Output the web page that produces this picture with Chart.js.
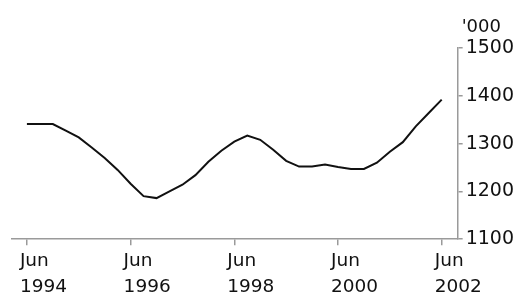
<!DOCTYPE html>
<html>
<head>
<meta charset="utf-8">
<script src="https://cdn.jsdelivr.net/npm/chart.js@4/dist/chart.umd.min.js"></script>
<style>
  html, body { margin: 0; padding: 0; background: #fff; }
  #wrap { width: 521px; height: 296px; }
</style>
</head>
<body>
<div id="wrap"><canvas id="chart"></canvas></div>
<script>
// quarterly series, Jun 1994 .. Jun 2002 ('000)
const quarters = [
  'Jun 1994', 'Sep 1994', 'Dec 1994', 'Mar 1995', 'Jun 1995', 'Sep 1995', 'Dec 1995', 'Mar 1996',
  'Jun 1996', 'Sep 1996', 'Dec 1996', 'Mar 1997', 'Jun 1997', 'Sep 1997', 'Dec 1997', 'Mar 1998',
  'Jun 1998', 'Sep 1998', 'Dec 1998', 'Mar 1999', 'Jun 1999', 'Sep 1999', 'Dec 1999', 'Mar 2000',
  'Jun 2000', 'Sep 2000', 'Dec 2000', 'Mar 2001', 'Jun 2001', 'Sep 2001', 'Dec 2001', 'Mar 2002',
  'Jun 2002'
];
const values = [
  1341, 1341, 1341, 1327, 1313, 1292, 1270, 1245,
  1216, 1190, 1186, 1200, 1214, 1234, 1262, 1285,
  1304, 1317, 1308, 1287, 1264, 1252, 1252, 1256,
  1251, 1247, 1247, 1260, 1283, 1303, 1336, 1364,
  1392
];
const xTickLabels = ['Jun 1994', 'Jun 1996', 'Jun 1998', 'Jun 2000', 'Jun 2002'];
const yTicks = [1100, 1200, 1300, 1400, 1500];
const unitLabel = "'000";

const AXIS = '#9a9a9a';
const FONT = 'DejaVu Sans';

// the '000 unit above the value axis
const unitText = {
  id: 'unitText',
  afterDraw(chart) {
    const ctx = chart.ctx, y = chart.scales.y;
    ctx.save();
    ctx.font = '18px ' + FONT;
    ctx.fillStyle = '#111';
    ctx.textAlign = 'left';
    ctx.textBaseline = 'middle';
    ctx.fillText(unitLabel, y.left + 4, y.top - 21);
    ctx.restore();
  }
};

new Chart(document.getElementById('chart'), {
  type: 'line',
  data: {
    datasets: [{
      data: values.map((v, i) => ({ x: i, y: v })),
      borderColor: '#111',
      borderWidth: 2,
      pointRadius: 0,
      tension: 0,
      fill: false
    }]
  },
  options: {
    responsive: true,
    maintainAspectRatio: false,
    animation: false,
    layout: { padding: { left: 12, right: 4, top: 48, bottom: -7 } },
    plugins: { legend: { display: false }, tooltip: { enabled: false } },
    scales: {
      x: {
        type: 'linear',
        min: -1.15,
        max: 33.23,
        afterBuildTicks(scale) {
          scale.ticks = xTickLabels.map(l => ({ value: quarters.indexOf(l) }));
        },
        grid: { drawOnChartArea: false, drawTicks: true, tickLength: 6, color: AXIS, lineWidth: 1.5 },
        border: { display: true, color: AXIS, width: 1.5 },
        ticks: {
          color: '#111',
          font: { family: FONT, size: 18.5, lineHeight: 1.4 },
          maxRotation: 0,
          align: 'start',
          labelOffset: -7,
          padding: 3,
          callback: (v) => quarters[v].split(' ')
        }
      },
      y: {
        position: 'right',
        min: 1100,
        max: 1500,
        afterBuildTicks(scale) {
          scale.ticks = yTicks.map(v => ({ value: v }));
        },
        grid: { drawOnChartArea: false, drawTicks: true, tickLength: 5, color: AXIS, lineWidth: 1.5 },
        border: { display: true, color: AXIS, width: 1.5 },
        ticks: {
          color: '#111',
          font: { family: FONT, size: 19 },
          padding: 3,
          callback: (v) => String(v)
        }
      }
    }
  },
  plugins: [unitText]
});
</script>
</body>
</html>
